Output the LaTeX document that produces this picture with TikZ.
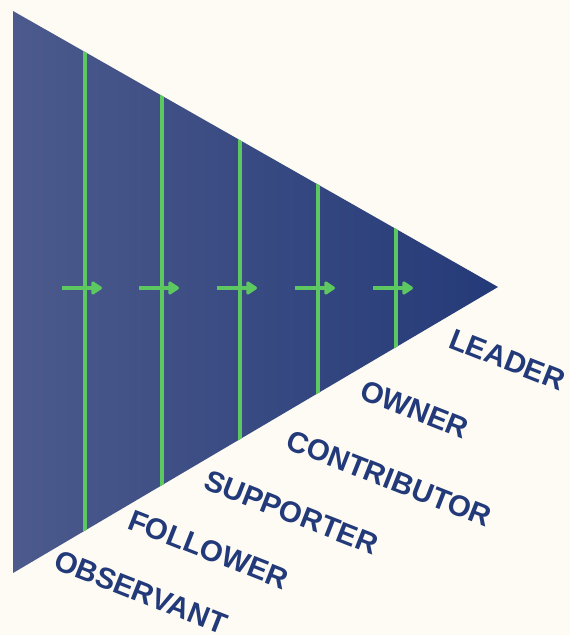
\documentclass[tikz,border=0pt]{standalone}
\usepackage{fontspec}
\setmainfont{Liberation Sans}
\usetikzlibrary{arrows.meta}
\definecolor{bg}{RGB}{253,251,243}
\definecolor{triL}{RGB}{76,90,140}
\definecolor{triR}{RGB}{36,58,120}
\definecolor{grn}{RGB}{94,200,96}
\definecolor{navy}{RGB}{35,58,122}
\begin{document}
\begin{tikzpicture}[x=1pt,y=-1pt,
  divider/.style={grn, line width=4pt},
  flow/.style={grn, line width=4pt, -{Triangle[length=12pt,width=15pt,round]}},
  stage/.style={text=navy, font=\bfseries\fontsize{29.5}{31}\selectfont, rotate=-21.5, anchor=base west, inner sep=0pt}]
\fill[bg] (0,0) rectangle (570,635);
\useasboundingbox (0,0) rectangle (570,635);
\coordinate (T) at (13,11);
\coordinate (B) at (13,573);
\coordinate (A) at (498,287);
\shade[left color=triL, right color=triR] (T) -- (A) -- (B) -- cycle;
\begin{scope}
  \clip (T) -- (A) -- (B) -- cycle;
  \foreach \x in {85,162,240,318,396} {
    \draw[divider] (\x,0) -- (\x,635);
    \draw[flow] (\x-23,288) -- (\x+17,288);
  }
\end{scope}
\node[stage] (leader) at (447,347) {LEADER};
\node[stage] (owner) at (358,398) {OWNER};
\node[stage] (contributor) at (284,448) {CONTRIBUTOR};
\node[stage] (supporter) at (202,488) {SUPPORTER};
\node[stage] (follower) at (126,528) {FOLLOWER};
\node[stage] (observant) at (52,568) {OBSERVANT};
\end{tikzpicture}
\end{document}
